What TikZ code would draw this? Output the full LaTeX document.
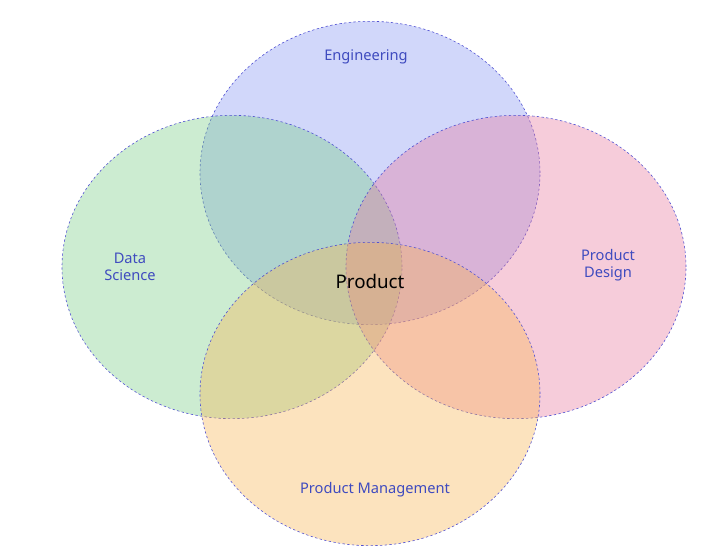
\documentclass[tikz,border=0pt]{standalone}
\usepackage{fontspec}
\setmainfont{Noto Sans}
\usetikzlibrary{shapes.geometric}
\definecolor{engblue}{RGB}{130,147,242}
\definecolor{dsgreen}{RGB}{118,204,130}
\definecolor{pdpink}{RGB}{230,118,155}
\definecolor{pmorange}{RGB}{248,180,80}
\definecolor{rim}{RGB}{80,80,210}
\definecolor{labelink}{RGB}{63,75,191}
\tikzset{
  venn/.style={ellipse, draw=rim, line width=0.5pt, dash pattern=on 2pt off 2pt,
    minimum width=10.2cm, minimum height=9.1cm, fill opacity=0.37, inner sep=0pt},
  area/.style={text=labelink, font=\fontsize{12.5}{14.5}\selectfont, align=center}
}
\begin{document}
\begin{tikzpicture}
\useasboundingbox (0,0) rectangle (21.03,16.71);
\node[venn, fill=engblue] (eng) at (11.1,11.52) {};
\node[venn, fill=dsgreen] (ds) at (6.96,8.7) {};
\node[venn, fill=pdpink] (pd) at (15.48,8.7) {};
\node[venn, fill=pmorange] (pm) at (11.1,4.89) {};
\node[area] (englabel) at (10.98,15.0) {Engineering};
\node[area] (dslabel) at (3.9,8.7) {Data\\Science};
\node[area] (pdlabel) at (18.24,8.76) {Product\\Design};
\node[area] (pmlabel) at (11.25,2.01) {Product Management};
\node[font=\fontsize{16}{18}\selectfont] (core) at (11.1,8.28) {Product};
\end{tikzpicture}
\end{document}
